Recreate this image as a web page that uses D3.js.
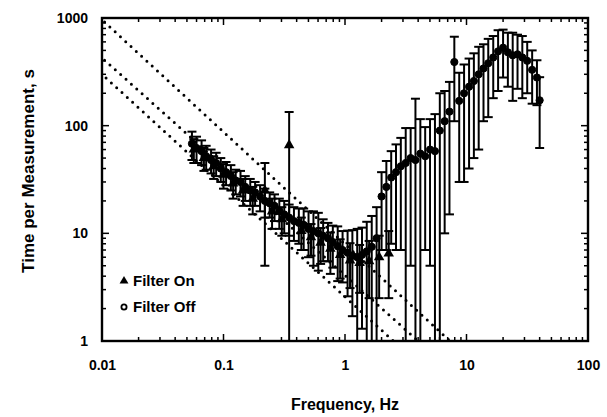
<!DOCTYPE html>
<html><head><meta charset="utf-8">
<script src="https://cdn.jsdelivr.net/npm/d3@7"></script>
<style>body{margin:0;background:#fff}svg{display:block}text{font-family:"Liberation Sans",Arial,sans-serif;font-weight:bold;fill:#000}</style>
</head><body><svg id="c" width="607" height="417"></svg>
<script>
// Filter Off (circles)
const offFreq = [0.055,0.060,0.066,0.072,0.079,0.087,0.095,0.105,0.115,0.126,0.138,0.151,0.166,0.182,0.200,0.219,0.240,0.263,0.288,0.316,0.347,0.380,0.417,0.457,0.501,0.550,0.603,0.661,0.724,0.794,0.871,0.955,1.05,1.15,1.26,1.38,1.51,1.66,1.82,
  2.00,2.19,2.40,2.63,2.88,3.16,3.47,3.80,4.17,4.57,5.01,5.50,6.03,6.61,7.24,7.94,8.71,9.55,10.5,11.5,12.6,13.8,15.1,16.6,18.2,20.0,21.9,24.0,26.3,28.8,31.6,34.7,38.0,40.0];
const offVal = [68,62,58,52,48,45,40,37,34,31,30,27,25,24,22,20,19,18,16,15,14,13,12.5,12,11,10.5,10,9.5,9,8.3,7.6,7,6.6,6.2,6.0,6.3,6.8,7.5,9,
  22,27,33,37,42,45,50,48,55,52,60,58,90,110,135,390,170,200,230,260,300,340,380,430,490,530,480,450,460,430,400,330,280,172];
const offErr = [20,17,15,13,12,11,10,9,9,8,8,7,7,6,6,6,5,5,5,5,4.5,4.5,4.5,5,5,5.5,5.5,4,3.5,3.5,4,3.5,4,4.5,5,5,6,7,8.5,
  15,20,25,30,35,50,45,130,60,45,55,70,110,100,120,280,140,170,190,210,240,230,260,250,280,250,250,280,240,250,200,170,125,110];
// Filter On (triangles)
const onFreq = [0.057,0.069,0.083,0.100,0.120,0.145,0.174,0.219,0.251,0.302,0.347,0.437,0.525,0.630,0.758,0.912,1.10,1.32,1.58,1.91,2.29];
const onVal  = [60,50,42,35,29,25,21,25,16,13.5,66,10.5,9.2,8.2,7.2,6.3,5.6,5.3,5.5,6.0,6.5];
const onErr  = [15,12,10,9,8,7,6,20,5,4,68,3.5,3,3,3,2.5,2.5,2.5,3,3.5,4];
// Dotted reference lines [f, t] endpoints
const refLines = [
  [[0.0105,916],[7.3,1]],
  [[0.0105,406],[4.0,1]],
  [[0.0108,277],[2.5,1]]
];
const xTicks = [0.01,0.1,1,10,100];
const xTickLabels = ["0.01","0.1","1","10","100"];
const yTicks = [1,10,100,1000];
const yTickLabels = ["1","10","100","1000"];
const legendItems = ["Filter On","Filter Off"];

const svg = d3.select("#c");
const L=102, T=18, R=588, B=341;
const x = d3.scaleLog().domain([0.01,100]).range([L,R]);
const y = d3.scaleLog().domain([1,1000]).range([B,T]);

function logTicks(lo,hi){const a=[];for(let d=lo; d<hi; d*=10){for(let k=1;k<10;k++)a.push(d*k);}a.push(hi);return a;}
const xAll = logTicks(0.01,100), yAll = logTicks(1,1000);
const isMajor = v => Math.abs(Math.log10(v)-Math.round(Math.log10(v)))<1e-9;

const g = svg.append("g");
const tk = g.append("g").attr("stroke","#000").attr("stroke-width",1.5);
xAll.forEach(v=>{const l=isMajor(v)?7:4;const px=x(v);
  tk.append("line").attr("x1",px).attr("x2",px).attr("y1",B).attr("y2",B-l);
  tk.append("line").attr("x1",px).attr("x2",px).attr("y1",T).attr("y2",T+l);});
yAll.forEach(v=>{const l=isMajor(v)?7:4;const py=y(v);
  tk.append("line").attr("x1",L).attr("x2",L+l).attr("y1",py).attr("y2",py);
  tk.append("line").attr("x1",R).attr("x2",R-l).attr("y1",py).attr("y2",py);});

const xa = g.append("g").attr("transform",`translate(0,${B})`).call(d3.axisBottom(x).tickValues(xTicks).tickSize(0).tickPadding(19).tickFormat((d,i)=>xTickLabels[i]));
const ya = g.append("g").attr("transform",`translate(${L},0)`).call(d3.axisLeft(y).tickValues(yTicks).tickSize(0).tickPadding(14).tickFormat((d,i)=>yTickLabels[i]));
[xa,ya].forEach(a=>{a.select(".domain").remove();a.selectAll("text").style("font-size","14px").style("font-family","Liberation Sans, Arial, sans-serif").style("font-weight","bold");});

svg.append("clipPath").attr("id","pc").append("rect").attr("x",L).attr("y",T).attr("width",R-L).attr("height",B-T);
const plot = svg.append("g").attr("clip-path","url(#pc)");

const line = d3.line().x(d=>x(d[0])).y(d=>y(d[1]));
refLines.forEach(p=>plot.append("path").attr("d",line(p)).attr("fill","none").attr("stroke","#000")
  .attr("stroke-width",3).attr("stroke-linecap","round").attr("stroke-dasharray","0,7.2"));

function errBars(fr,vals,errs){
  const eg = plot.append("g").attr("stroke","#000").attr("stroke-width",2);
  fr.forEach((f,i)=>{
    const px=x(f), hi=vals[i]+errs[i], lo=vals[i]-errs[i];
    const yh=y(hi), yl= lo>0? y(lo) : B+5;
    eg.append("line").attr("x1",px).attr("x2",px).attr("y1",yh).attr("y2",yl);
    eg.append("line").attr("x1",px-4.5).attr("x2",px+4.5).attr("y1",yh).attr("y2",yh);
    if(lo>0) eg.append("line").attr("x1",px-4.5).attr("x2",px+4.5).attr("y1",yl).attr("y2",yl);
  });
}
errBars(onFreq,onVal,onErr);
errBars(offFreq,offVal,offErr);

const tri = d3.symbol().type(d3.symbolTriangle).size(48);
plot.append("g").selectAll("path").data(onFreq).join("path")
  .attr("d",tri).attr("transform",(d,i)=>`translate(${x(d)},${y(onVal[i])})`).attr("fill","#000");
plot.append("g").selectAll("circle").data(offFreq).join("circle")
  .attr("cx",d=>x(d)).attr("cy",(d,i)=>y(offVal[i])).attr("r",3.6)
  .attr("fill","#000").attr("stroke","#000").attr("stroke-width",1);

svg.append("rect").attr("x",L).attr("y",T).attr("width",R-L).attr("height",B-T)
  .attr("fill","none").attr("stroke","#000").attr("stroke-width",2.4);

const lg = svg.append("g");
lg.append("path").attr("d",d3.symbol().type(d3.symbolTriangle).size(34)).attr("transform","translate(124,281)").attr("fill","#000");
lg.append("circle").attr("cx",124).attr("cy",307).attr("r",2.6).attr("fill","#fff").attr("stroke","#000").attr("stroke-width",1.8);
lg.selectAll("text").data(legendItems).join("text").attr("x",133).attr("y",(d,i)=>286+i*26)
  .style("font-size","15px").text(d=>d);

svg.append("text").attr("x",345).attr("y",410).attr("text-anchor","middle").style("font-size","16px").text("Frequency, Hz");
svg.append("text").attr("transform","translate(34,171) rotate(-90)").attr("text-anchor","middle").style("font-size","17px").text("Time per Measurement, s");
</script></body></html>
